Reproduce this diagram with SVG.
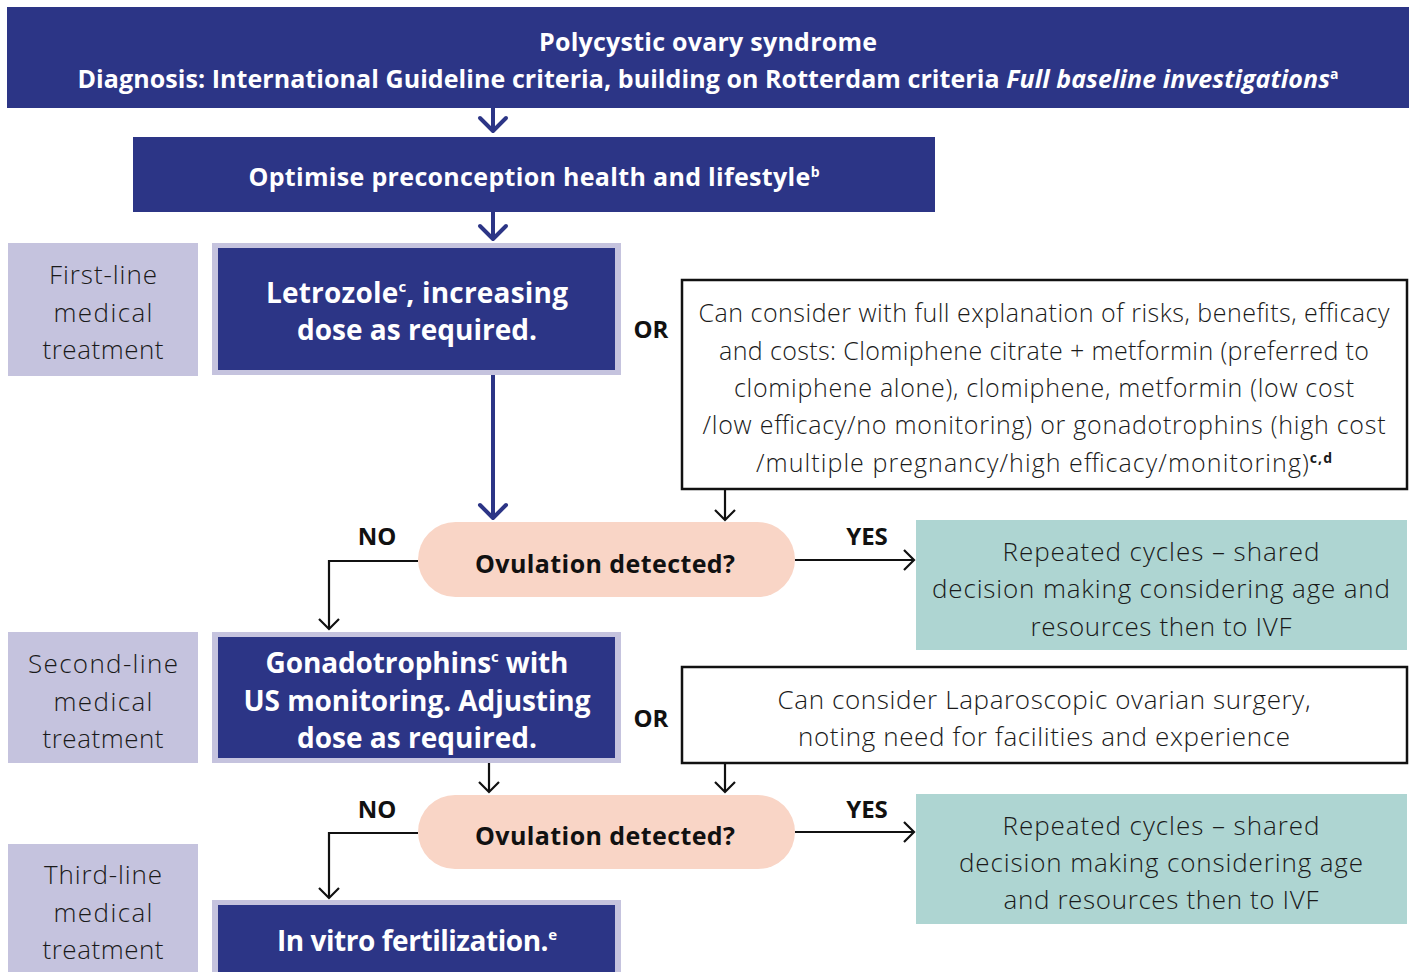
<svg xmlns="http://www.w3.org/2000/svg" width="1410" height="972" viewBox="0 0 1410 972">
<defs>
<marker id="hb" markerUnits="userSpaceOnUse" viewBox="-16 -16 32 32" markerWidth="32" markerHeight="32" refX="0" refY="0" orient="auto">
<path d="M-13,-13 L0,0 L-13,13" fill="none" stroke="#2c3586" stroke-width="4" stroke-linecap="round" stroke-linejoin="round"/>
</marker>
<marker id="hk" markerUnits="userSpaceOnUse" viewBox="-14 -14 28 28" markerWidth="28" markerHeight="28" refX="0" refY="0" orient="auto">
<path d="M-10,-10 L0,0 L-10,10" fill="none" stroke="#111" stroke-width="2.2" stroke-linejoin="miter"/>
</marker>
</defs>
<style>
.dark{fill:#2c3586}
.lav{fill:#c5c3de}
.pill{fill:#f9d5c6}
.teal{fill:#aed5d2}
.obox{fill:#fff;stroke:#111;stroke-width:2.5}
.wb{font-family:"Open Sans",Lato,sans-serif;font-weight:700;fill:#fff;text-anchor:middle}
.kb{font-family:"Open Sans",Lato,sans-serif;font-weight:700;fill:#111;text-anchor:middle}
.lt{font-family:"Open Sans",Lato,sans-serif;font-weight:300;fill:#1a1a1a;text-anchor:middle}
.bl{fill:none;stroke:#2c3586;stroke-width:4}
.bk{fill:none;stroke:#111;stroke-width:2.2}
</style>
<rect width="1410" height="972" fill="#fff"/>

<g id="connectors">
<path class="bl" d="M493,108 V131" marker-end="url(#hb)"/>
<path class="bl" d="M493,212 V239" marker-end="url(#hb)"/>
<path class="bl" d="M493,375 V518" marker-end="url(#hb)"/>
<path class="bk" d="M725,489 V520" marker-end="url(#hk)"/>
<path class="bk" d="M418,561 H329 V629" marker-end="url(#hk)"/>
<path class="bk" d="M795,560 H914" marker-end="url(#hk)"/>
<path class="bk" d="M489,763 V792" marker-end="url(#hk)"/>
<path class="bk" d="M725,763 V792" marker-end="url(#hk)"/>
<path class="bk" d="M418,833 H329 V898" marker-end="url(#hk)"/>
<path class="bk" d="M795,832 H914" marker-end="url(#hk)"/>
<text class="kb" x="377" y="545" font-size="24">NO</text>
<text class="kb" x="867" y="545" font-size="24">YES</text>
<text class="kb" x="377" y="818" font-size="24">NO</text>
<text class="kb" x="867" y="818" font-size="24">YES</text>
<text class="kb" x="651" y="338" font-size="24">OR</text>
<text class="kb" x="651" y="727" font-size="24">OR</text>
</g>

<g id="pcos">
<rect class="dark" x="7" y="7" width="1402" height="101"/>
<text class="wb" x="708" y="51" font-size="25" textLength="338">Polycystic ovary syndrome</text>
<text class="wb" x="708" y="88" font-size="25" textLength="1261">Diagnosis: International Guideline criteria, building on Rotterdam criteria <tspan font-style="italic">Full baseline investigations</tspan><tspan font-size="14" dy="-9">a</tspan></text>
</g>

<g id="optimise">
<rect class="dark" x="133" y="137" width="802" height="75"/>
<text class="wb" x="534" y="186" font-size="25" textLength="571">Optimise preconception health and lifestyle<tspan font-size="14" dy="-9">b</tspan></text>
</g>

<g id="first-line">
<rect class="lav" x="8" y="243" width="190" height="133"/>
<text class="lt" x="103" y="284" font-size="26" textLength="108">First-line</text>
<text class="lt" x="103" y="322" font-size="26" textLength="99">medical</text>
<text class="lt" x="103" y="359" font-size="26" textLength="121">treatment</text>
</g>

<g id="letrozole">
<rect class="lav" x="212" y="243" width="409" height="132"/>
<rect class="dark" x="218" y="248" width="397" height="122"/>
<text class="wb" x="417" y="303" font-size="28" textLength="302">Letrozole<tspan font-size="15" dy="-11">c</tspan><tspan dy="11">, increasing</tspan></text>
<text class="wb" x="417" y="340" font-size="28" textLength="240">dose as required.</text>
</g>

<g id="alt1">
<rect class="obox" x="682" y="280" width="725" height="209"/>
<text class="lt" x="1044" y="322" font-size="25" textLength="691">Can consider with full explanation of risks, benefits, efficacy</text>
<text class="lt" x="1044" y="360" font-size="25" textLength="650">and costs: Clomiphene citrate + metformin (preferred to</text>
<text class="lt" x="1044" y="397" font-size="25" textLength="620">clomiphene alone), clomiphene, metformin (low cost</text>
<text class="lt" x="1044" y="434" font-size="25" textLength="683">/low efficacy/no monitoring) or gonadotrophins (high cost</text>
<text class="lt" x="1044" y="472" font-size="25" textLength="576">/multiple pregnancy/high efficacy/monitoring)<tspan font-size="14" font-weight="700" dy="-9">c,d</tspan></text>
</g>

<g id="ovulation1">
<rect class="pill" x="418" y="522" width="377" height="75" rx="37.5"/>
<text class="kb" x="605" y="573" font-size="25" textLength="260">Ovulation detected?</text>
</g>

<g id="repeat1">
<rect class="teal" x="916" y="520" width="491" height="130"/>
<text class="lt" x="1161" y="561" font-size="26" textLength="317">Repeated cycles – shared</text>
<text class="lt" x="1161" y="598" font-size="26" textLength="458">decision making considering age and</text>
<text class="lt" x="1161" y="636" font-size="26" textLength="261">resources then to IVF</text>
</g>

<g id="second-line">
<rect class="lav" x="8" y="632" width="190" height="131"/>
<text class="lt" x="103" y="673" font-size="26" textLength="150">Second-line</text>
<text class="lt" x="103" y="711" font-size="26" textLength="99">medical</text>
<text class="lt" x="103" y="748" font-size="26" textLength="121">treatment</text>
</g>

<g id="gonadotrophins">
<rect class="lav" x="212" y="632" width="409" height="131"/>
<rect class="dark" x="218" y="637" width="397" height="121"/>
<text class="wb" x="417" y="673" font-size="28" textLength="303">Gonadotrophins<tspan font-size="15" dy="-11">c</tspan><tspan dy="11"> with</tspan></text>
<text class="wb" x="417" y="711" font-size="28" textLength="347">US monitoring. Adjusting</text>
<text class="wb" x="417" y="748" font-size="28" textLength="240">dose as required.</text>
</g>

<g id="alt2">
<rect class="obox" x="682" y="667" width="725" height="96"/>
<text class="lt" x="1044" y="709" font-size="26" textLength="533">Can consider Laparoscopic ovarian surgery,</text>
<text class="lt" x="1044" y="746" font-size="26" textLength="492">noting need for facilities and experience</text>
</g>

<g id="ovulation2">
<rect class="pill" x="418" y="795" width="377" height="74" rx="37"/>
<text class="kb" x="605" y="845" font-size="25" textLength="260">Ovulation detected?</text>
</g>

<g id="repeat2">
<rect class="teal" x="916" y="794" width="491" height="130"/>
<text class="lt" x="1161" y="835" font-size="26" textLength="317">Repeated cycles – shared</text>
<text class="lt" x="1161" y="872" font-size="26" textLength="404">decision making considering age</text>
<text class="lt" x="1161" y="909" font-size="26" textLength="315">and resources then to IVF</text>
</g>

<g id="third-line">
<rect class="lav" x="8" y="844" width="190" height="128"/>
<text class="lt" x="103" y="884" font-size="26" textLength="118">Third-line</text>
<text class="lt" x="103" y="922" font-size="26" textLength="99">medical</text>
<text class="lt" x="103" y="959" font-size="26" textLength="121">treatment</text>
</g>

<g id="ivf">
<rect class="lav" x="212" y="900" width="409" height="72"/>
<rect class="dark" x="218" y="905" width="397" height="67"/>
<text class="wb" x="417" y="951" font-size="28" textLength="280">In vitro fertilization.<tspan font-size="15" dy="-11">e</tspan></text>
</g>
</svg>
